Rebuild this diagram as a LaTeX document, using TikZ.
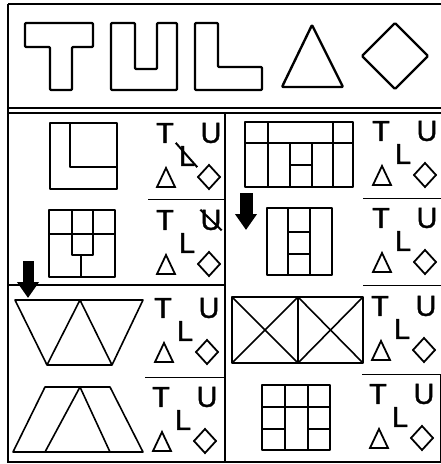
\documentclass[tikz,border=0pt]{standalone}
\usepackage{fontspec}
\setmainfont{Liberation Sans}
\newfontfamily\tulfont{Liberation Sans}[FakeBold=1.5]
\usetikzlibrary{arrows.meta}

\begin{document}
\begin{tikzpicture}[
  x=1pt, y=-1pt,
  frame/.style={line width=1.1pt},
  rule/.style={line width=1pt},
  fig/.style={line width=1.6pt, line join=round},
  bold/.style={line width=2.4pt, line join=round, rounded corners=1pt},
  letter/.style={inner sep=0pt, font=\tulfont\fontsize{29}{29}\selectfont},
  glyph/.style={line width=1.8pt, line join=miter},
  slash/.style={line width=2pt},
  dropmark/.style={line width=#1, -{Triangle[length=16pt,width=21pt]}},
  tul/.pic={
    \node[letter] (-t) at (0,0) {T};
    \node[letter] (-u) at (46,0) {U};
    \node[letter] (-l) at (22,23) {L};
    \draw[glyph] (1,35) -- (10,54) -- (-8,54) -- cycle;
    \draw[glyph] (44,32) -- (55,44) -- (44,56) -- (33,44) -- cycle;
  }
]
\useasboundingbox (0,0) rectangle (441,464);

% frame
\draw[frame] (8,4) -- (441,4);
\draw[frame] (8,4) -- (8,462) -- (441,462);
\draw[frame] (8,108) -- (441,108);
\draw[frame] (8,113) -- (441,113);
\draw[frame] (225,113) -- (225,462);
\draw[frame, line width=2pt] (8,285) -- (225,285);
\draw[rule] (148,199) -- (225,199);
\draw[rule] (145,377) -- (225,377);
\draw[rule] (363,198) -- (441,198);
\draw[rule] (363,285) -- (441,285);
\draw[rule] (362,374) -- (440,374) -- (440,462);

% the five pieces
\draw[bold] (25,23) -- (93,23) -- (93,47) -- (72,47) -- (72,90) -- (50,90) -- (50,47) -- (25,47) -- cycle;
\draw[bold] (111,23) -- (135,23) -- (135,69) -- (157,69) -- (157,23) -- (177,23) -- (177,90) -- (111,90) -- cycle;
\draw[bold] (195,23) -- (218,23) -- (218,67) -- (262,67) -- (262,90) -- (195,90) -- cycle;
\draw[bold] (312,25) -- (343,87) -- (282,87) -- cycle;
\draw[bold] (395,23) -- (428,56) -- (395,89) -- (362,56) -- cycle;

% left column figures
\draw[fig] (50,123) rectangle (117,189);
\draw[fig] (70,123) -- (70,167) -- (117,167);

\draw[fig] (49,210) rectangle (115,277);
\draw[fig] (49,234) -- (115,234);
\draw[fig] (72,210) -- (72,255) -- (93,255) -- (93,210);
\draw[fig] (81,255) -- (81,277);

\draw[fig] (15,300) -- (143,300) -- (112,365) -- (47,365) -- cycle;
\draw[fig] (47,365) -- (80,300) -- (112,365);

\draw[fig] (45,387) -- (110,387) -- (143,452) -- (13,452) -- cycle;
\draw[fig] (45,452) -- (80,387) -- (110,452);

% right column figures
\draw[fig] (245,122) rectangle (353,187);
\draw[fig] (245,143) -- (353,143);
\draw[fig] (268,122) -- (268,187);
\draw[fig] (333,122) -- (333,187);
\draw[fig] (290,143) -- (290,187);
\draw[fig] (312,143) -- (312,187);
\draw[fig] (290,165) -- (312,165);

\draw[fig] (267,208) rectangle (332,275);
\draw[fig] (288,208) -- (288,275);
\draw[fig] (310,208) -- (310,275);
\draw[fig] (288,232) -- (310,232);
\draw[fig] (288,254) -- (310,254);

\draw[fig] (232,297) rectangle (363,363);
\draw[fig] (298,297) -- (298,363);
\draw[fig] (232,297) -- (298,363);
\draw[fig] (298,297) -- (232,363);
\draw[fig] (298,297) -- (363,363);
\draw[fig] (363,297) -- (298,363);

\draw[fig] (262,385) rectangle (330,450);
\draw[fig] (285,385) -- (285,450);
\draw[fig] (308,385) -- (308,450);
\draw[fig] (262,407) -- (330,407);
\draw[fig] (262,429) -- (285,429);
\draw[fig] (308,429) -- (330,429);

% symbol sets
\pic (la) at (165,133) {tul};
\pic (lb) at (165,220) {tul};
\pic (lc) at (163,308) {tul};
\pic (ld) at (161,397) {tul};
\pic (ra) at (381,131) {tul};
\pic (rb) at (381,218) {tul};
\pic (rc) at (380,306) {tul};
\pic (rd) at (378,394) {tul};

\draw[slash] ([shift={(-3,-3)}]la-l.north west) -- ([shift={(2,1)}]la-l.south east);
\draw[slash] (lb-u.north west) -- (lb-u.south east);

% markers
\coordinate (dropL) at (28,261);
\coordinate (dropL tip) at (28,298);
\coordinate (dropR) at (246,193);
\coordinate (dropR tip) at (246,230);
\draw[dropmark=11pt] (dropL) -- (dropL tip);
\draw[dropmark=13pt] (dropR) -- (dropR tip);
\end{tikzpicture}
\end{document}
